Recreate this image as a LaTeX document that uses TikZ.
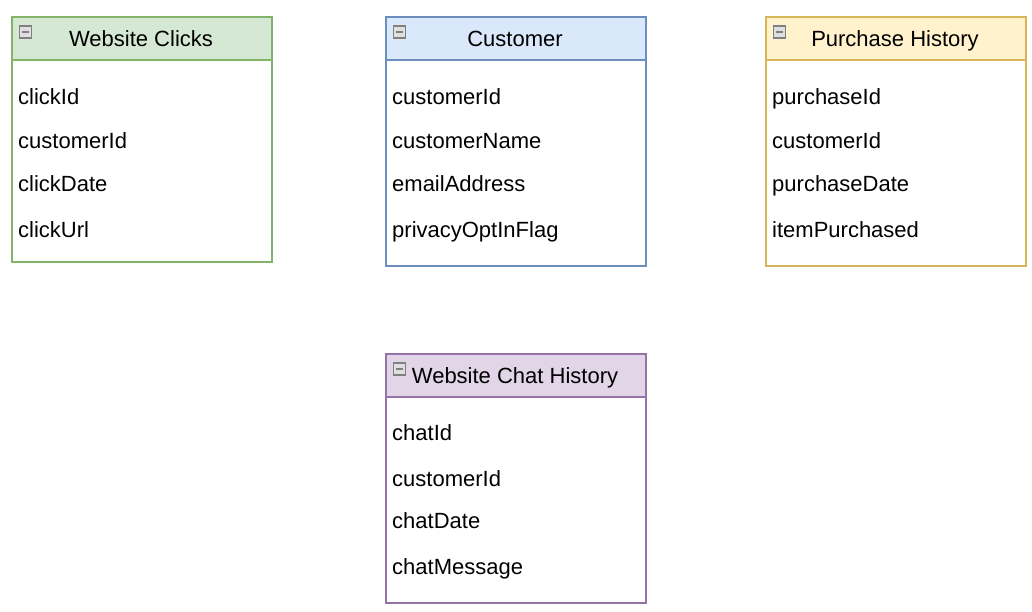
\documentclass[tikz,border=0pt]{standalone}
\usepackage{fontspec}
\setmainfont{Liberation Sans}
\usetikzlibrary{positioning}

\definecolor{clickfill}{HTML}{D5E8D4}
\definecolor{clickline}{HTML}{82B366}
\definecolor{custfill}{HTML}{DAE8FC}
\definecolor{custline}{HTML}{6C8EBF}
\definecolor{buyfill}{HTML}{FFF2CC}
\definecolor{buyline}{HTML}{D6B656}
\definecolor{chatfill}{HTML}{E1D5E7}
\definecolor{chatline}{HTML}{9673A6}

\tikzset{
    headbox/.style 2 args={draw=#1, fill=#2, line width=1.6pt, minimum width=260pt,
        minimum height=43pt, anchor=north west, inner sep=0pt},
    bodybox/.style={draw=#1, fill=white, line width=1.6pt, minimum width=260pt,
        anchor=north west, inner sep=0pt},
    title/.style={font=\fontsize{22}{26}\selectfont, anchor=base, inner sep=0pt},
    field/.style={font=\fontsize{22}{26}\selectfont, anchor=base west, inner sep=0pt},
    toggle/.style={draw=gray, fill=gray!25, line width=1.2pt, minimum size=12pt, inner sep=0pt,
        path picture={\draw[line width=2pt] ([xshift=2.5pt]path picture bounding box.west)
            -- ([xshift=-2.5pt]path picture bounding box.east);}}
}

\begin{document}
\begin{tikzpicture}[x=1pt,y=-1pt]
    \useasboundingbox (0,0) rectangle (1032,611);

    % Website Clicks
    \node[bodybox=clickline, minimum height=202pt] (clicks-body) at (11,59) {};
    \node[headbox={clickline}{clickfill}] (clicks-head) at (11,16) {};
    \node[title] (clicks-title) at (141,46) {Website Clicks};
    \node[toggle] (clicks-toggle) at (25.5,32) {};
    \foreach \name/\y [count=\i] in {clickId/88, customerId/132, clickDate/175, clickUrl/221}
        \node[field] (clicks-f\i) at (18,16+\y) {\name};

    % Customer
    \node[bodybox=custline, minimum height=206pt] (cust-body) at (385,59) {};
    \node[headbox={custline}{custfill}] (cust-head) at (385,16) {};
    \node[title] (cust-title) at (515,46) {Customer};
    \node[toggle] (cust-toggle) at (399.5,32) {};
    \foreach \name/\y [count=\i] in {customerId/88, customerName/132, emailAddress/175, privacyOptInFlag/221}
        \node[field] (cust-f\i) at (392,16+\y) {\name};

    % Purchase History
    \node[bodybox=buyline, minimum height=206pt] (buy-body) at (765,59) {};
    \node[headbox={buyline}{buyfill}] (buy-head) at (765,16) {};
    \node[title] (buy-title) at (895,46) {Purchase History};
    \node[toggle] (buy-toggle) at (779.5,32) {};
    \foreach \name/\y [count=\i] in {purchaseId/88, customerId/132, purchaseDate/175, itemPurchased/221}
        \node[field] (buy-f\i) at (772,16+\y) {\name};

    % Website Chat History
    \node[bodybox=chatline, minimum height=206pt] (chat-body) at (385,396) {};
    \node[headbox={chatline}{chatfill}] (chat-head) at (385,353) {};
    \node[title] (chat-title) at (515,383) {Website Chat History};
    \node[toggle] (chat-toggle) at (399.5,369) {};
    \foreach \name/\y [count=\i] in {chatId/87, customerId/133, chatDate/175, chatMessage/221}
        \node[field] (chat-f\i) at (392,353+\y) {\name};
\end{tikzpicture}
\end{document}
